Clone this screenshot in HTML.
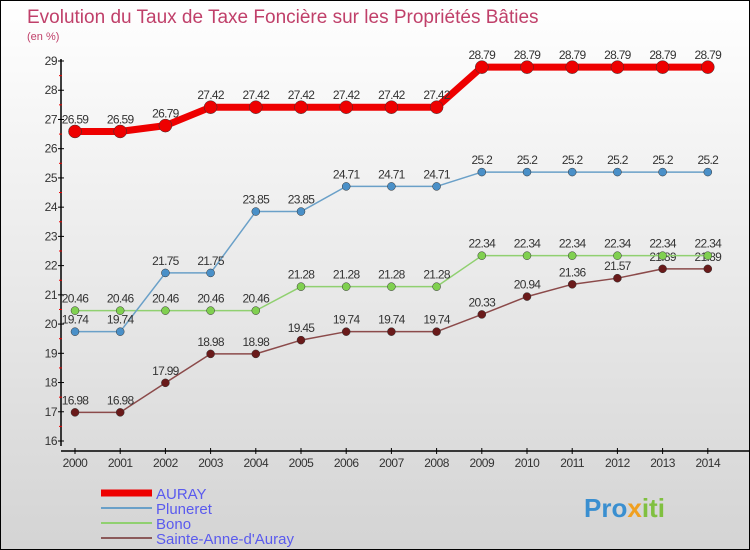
<!DOCTYPE html>
<html><head><meta charset="utf-8"><style>
body{margin:0}
#c{width:748px;height:548px;border:1px solid #000;background:linear-gradient(#fff,#d4d4d4);position:relative;overflow:hidden;font-family:"Liberation Sans",sans-serif}
</style></head><body>
<div id="c">
<svg id="s" width="748" height="548" style="position:absolute;left:0;top:0">
<text x="26" y="22" font-size="19" fill="#c0406a">Evolution du Taux de Taxe Foncière sur les Propriétés Bâties</text>
<text x="26" y="39" font-size="11" fill="#c0406a">(en %)</text>
<g id="axes"></g><g id="series"></g><g id="legend"></g>
<text x="583" y="516" font-size="26" font-weight="bold" fill="#3a8fd0">Pro<tspan fill="#f0a020">x</tspan><tspan fill="#80c040">iti</tspan></text>
</svg>
</div>
<script>
const years=[2000,2001,2002,2003,2004,2005,2006,2007,2008,2009,2010,2011,2012,2013,2014];
const yTicks=[16,17,18,19,20,21,22,23,24,25,26,27,28,29];
const auray=[26.59,26.59,26.79,27.42,27.42,27.42,27.42,27.42,27.42,28.79,28.79,28.79,28.79,28.79,28.79];
const pluneret=[19.74,19.74,21.75,21.75,23.85,23.85,24.71,24.71,24.71,25.2,25.2,25.2,25.2,25.2,25.2];
const bono=[20.46,20.46,20.46,20.46,20.46,21.28,21.28,21.28,21.28,22.34,22.34,22.34,22.34,22.34,22.34];
const sainte=[16.98,16.98,17.99,18.98,18.98,19.45,19.74,19.74,19.74,20.33,20.94,21.36,21.57,21.89,21.89];
const NS="http://www.w3.org/2000/svg";
const X=i=>74+i*45.2, Y=v=>440-(v-16)*29.23;
function mk(t,a,p){const e=document.createElementNS(NS,t);for(const k in a)e.setAttribute(k,a[k]);p.appendChild(e);return e;}
const ax=document.getElementById('axes');
let l=mk('line',{x1:60,y1:58,x2:60,y2:445,stroke:'#000','stroke-width':1.5},ax);


l=mk('line',{x1:60,y1:450,x2:748,y2:450,stroke:'#000','stroke-width':1.5},ax);


yTicks.forEach(v=>{
 mk('line',{x1:57,y1:Y(v),x2:63,y2:Y(v),stroke:'#000'},ax);
 if(v<29) mk('line',{x1:58,y1:Y(v+0.5),x2:61,y2:Y(v+0.5),stroke:'#e00'},ax);
 const t=mk('text',{x:56,y:Y(v)+4,'font-size':12,'text-anchor':'end',fill:'#333','letter-spacing':'-0.5'},ax);
 t.textContent=v;
 
 
});
years.forEach((y,i)=>{
 mk('line',{x1:X(i),y1:447,x2:X(i),y2:453,stroke:'#000'},ax);
 const t=mk('text',{x:X(i),y:466,'font-size':12,'text-anchor':'middle',fill:'#333','letter-spacing':'-0.5'},ax);
 t.textContent=y;
 
 
});
const S=document.getElementById('series');
function draw(name,data,color,w,r,labelColor){
 const g=mk('g',{},S);
 
 
 const p=mk('polyline',{points:data.map((v,i)=>X(i)+','+Y(v)).join(' '),fill:'none',stroke:color,'stroke-width':w,'stroke-linejoin':'round'},g);
 
 
 data.forEach((v,i)=>{
  const c=mk('circle',{cx:X(i),cy:Y(v),r:r,fill:labelColor,stroke:'#333','stroke-width':0.5},g);
  
  
  const t=mk('text',{x:X(i),y:Y(v)-8,'font-size':12,'text-anchor':'middle',fill:'#333','letter-spacing':'-0.7'},g);
  t.textContent=v;
  
  
 });
}
draw('sainte-anne',sainte,'#8b4a4a',1.5,4,'#6a1a1a');
draw('bono',bono,'#90d070',1.5,4,'#80d050');
draw('pluneret',pluneret,'#6aa0c8',1.5,4,'#4a90c8');
draw('auray',auray,'#ee0000',7,6.5,'#ee0000');
const L=document.getElementById('legend');
[['AURAY','#ee0000',7],['Pluneret','#6aa0c8',2],['Bono','#90d070',2],['Sainte-Anne-d\'Auray','#8b5a5a',2]].forEach((e,i)=>{
 const y=492+i*15;
 const ln=mk('line',{x1:100,y1:y,x2:151,y2:y,stroke:e[1],'stroke-width':e[2]},L);
 
 
 const t=mk('text',{x:155,y:y+6,'font-size':15,fill:'#5a5aee'},L);
 t.textContent=e[0];
 
 
});
</script>
</body></html>
